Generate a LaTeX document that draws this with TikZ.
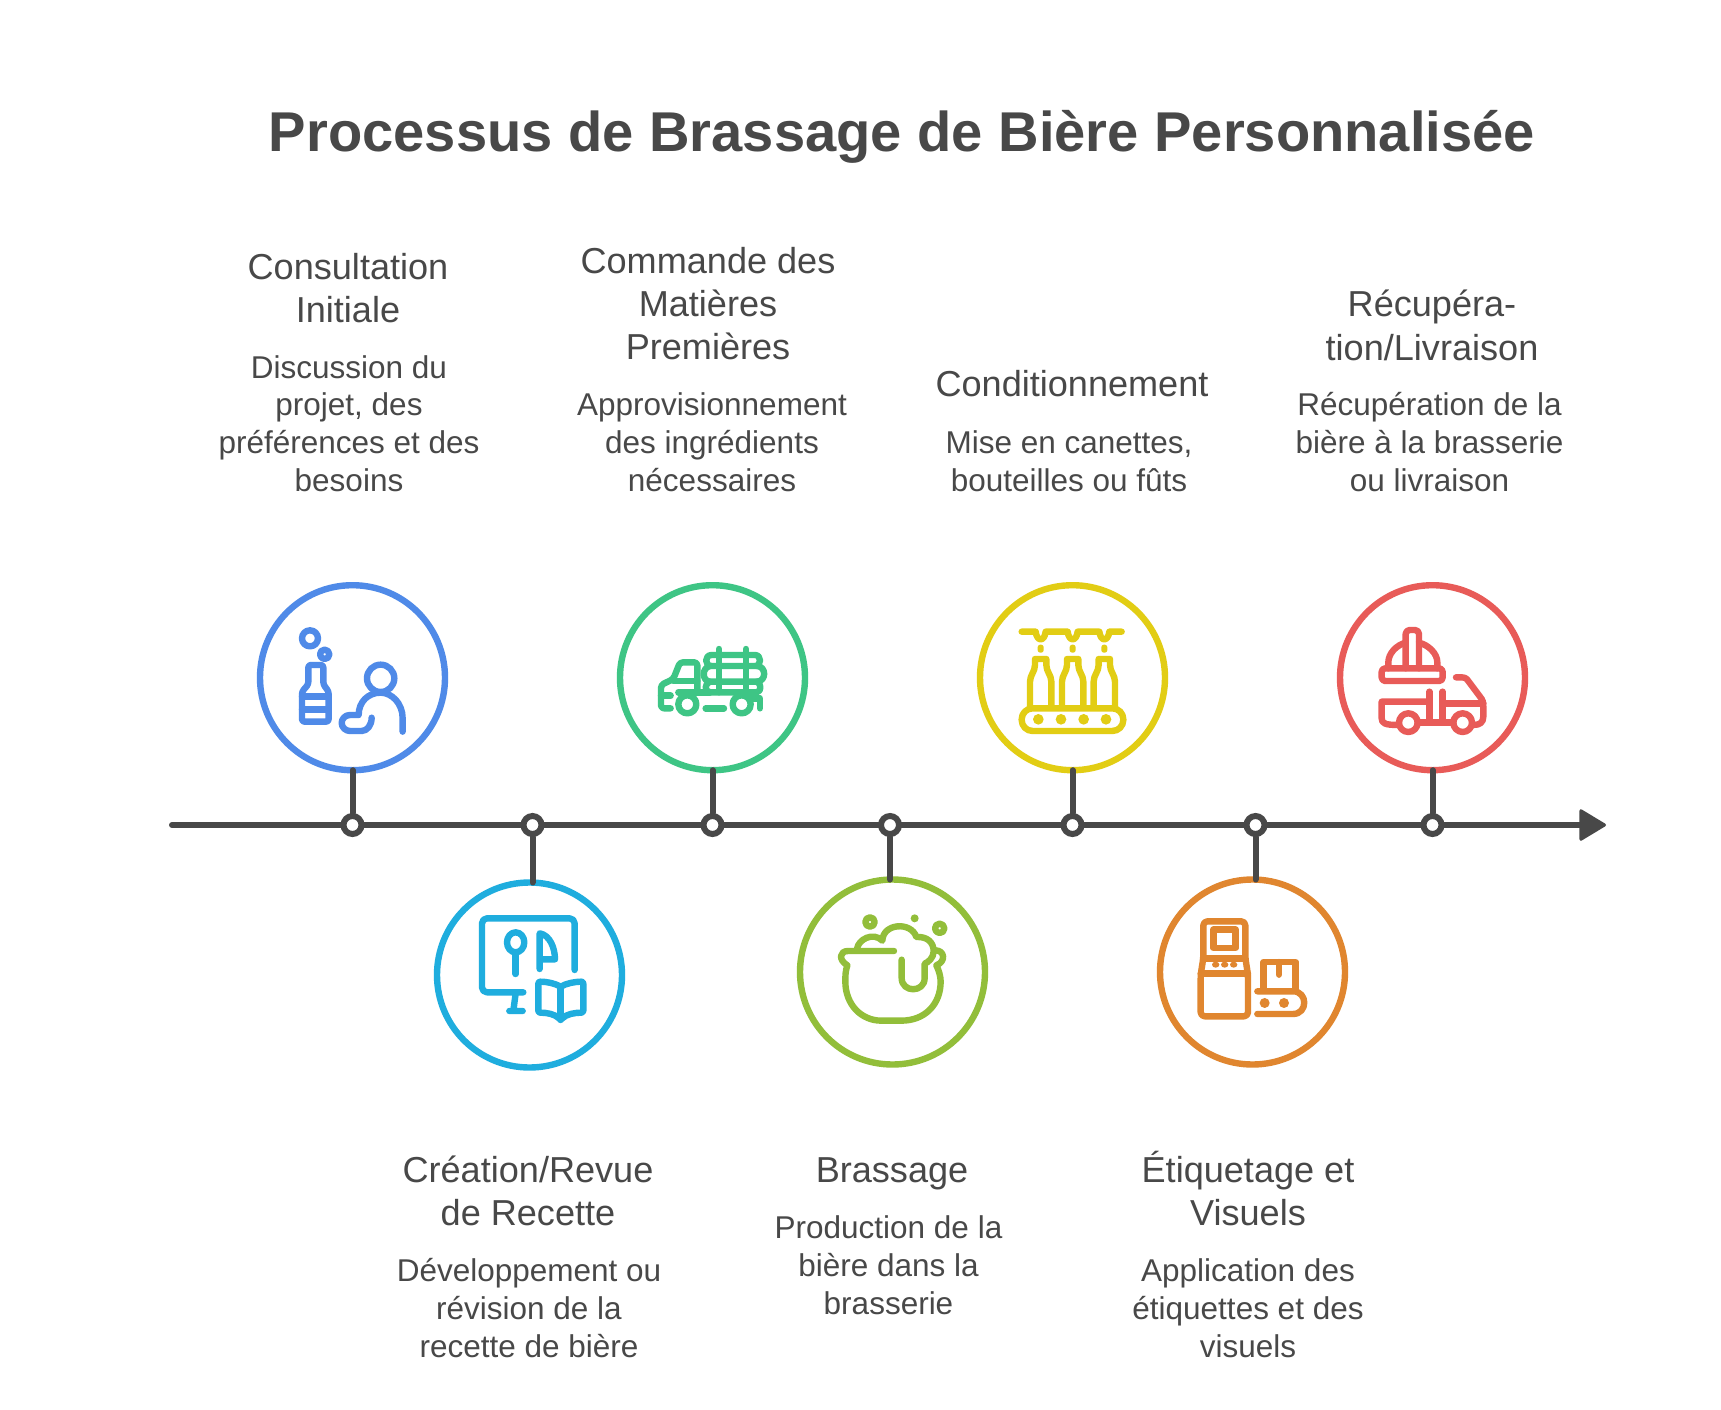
\documentclass[tikz,border=0pt]{standalone}
\usepackage{fontspec}
\setmainfont{Liberation Sans}
\usetikzlibrary{arrows.meta}
\definecolor{ink}{HTML}{484848}
\definecolor{cblue}{HTML}{4F8AE8}
\definecolor{ccyan}{HTML}{1FADDE}
\definecolor{cgreen}{HTML}{3EC585}
\definecolor{colive}{HTML}{92BE3A}
\definecolor{cyellow}{HTML}{E2CD14}
\definecolor{corange}{HTML}{E0862F}
\definecolor{cred}{HTML}{E85B58}
\newcommand{\headfont}{\fontsize{36.1}{43.4}\selectfont}
\newcommand{\descfont}{\fontsize{31.5}{37.8}\selectfont}
\tikzset{
  x=1pt,y=-1pt,
  ring/.style={circle,draw=#1,line width=6.4pt,minimum size=185pt,inner sep=0pt,outer sep=0pt},
  tick/.style={circle,draw=ink,fill=white,line width=6pt,minimum size=18pt,inner sep=0pt},
  link/.style={draw=ink,line width=6pt,line cap=round},
  head/.style={text=ink,align=center,font=\headfont,inner sep=0pt},
  desc/.style={text=ink,align=center,font=\descfont,inner sep=0pt},
  icon/.style={draw=#1,line width=6.4pt,line cap=round,line join=round},
  iconat/.style={shift={(#1)},x=0.3333pt,y=-0.3333pt},
}
\begin{document}
\begin{tikzpicture}
\useasboundingbox (0,0) rectangle (1721,1410);
\fill[white] (0,0) rectangle (1721,1410);
\node[text=ink,font=\bfseries\fontsize{56.1}{66}\selectfont,inner sep=0pt] (title) at (902,137) {Processus de Brassage de Bière Personnalisée};

% axis
\coordinate (axisstart) at (172,825);
\coordinate (axisend) at (1606,825);
\draw[draw=ink,line width=6pt,line cap=round,-{Triangle[length=28pt,width=33pt,round,line width=3pt]}] (axisstart) -- (axisend);

% rings
\node[ring=cblue] (c1) at (352.5,677.7) {};
\node[ring=ccyan] (c2) at (529.5,975) {};
\node[ring=cgreen] (c3) at (712.5,677.7) {};
\node[ring=colive] (c4) at (892.5,972) {};
\node[ring=cyellow] (c5) at (1072.5,677.7) {};
\node[ring=corange] (c6) at (1252.5,972) {};
\node[ring=cred] (c7) at (1432.5,677.7) {};

% ticks
\node[tick] (m1) at (352.5,825) {};
\node[tick] (m2) at (532.5,825) {};
\node[tick] (m3) at (712.5,825) {};
\node[tick] (m4) at (890,825) {};
\node[tick] (m5) at (1072.5,825) {};
\node[tick] (m6) at (1255.5,825) {};
\node[tick] (m7) at (1432.5,825) {};

\draw[link] (m1) -- (m1 |- c1.south);
\draw[link] (m2) -- (m2 |- c2.north);
\draw[link] (m3) -- (m3 |- c3.south);
\draw[link] (m4) -- (m4 |- c4.north);
\draw[link] (m5) -- (m5 |- c5.south);
\draw[link] (m6) -- (m6 |- c6.north);
\draw[link] (m7) -- (m7 |- c7.south);

% texts
\node[head] (h1) at (348,288) {Consultation\\Initiale};
\node[desc] (d1) at (349,423.6) {Discussion du\\projet, des\\préférences et des\\besoins};
\node[head] (h3) at (708,303.5) {Commande des\\Matières\\Premières};
\node[desc] (d3) at (712,442) {Approvisionnement\\des ingrédients\\nécessaires};
\node[head] (h5) at (1072,384) {Conditionnement};
\node[desc] (d5) at (1069,461) {Mise en canettes,\\bouteilles ou fûts};
\node[head] (h7) at (1432,325.5) {Récupéra-\\tion/Livraison};
\node[desc] (d7) at (1429.5,442) {Récupération de la\\bière à la brasserie\\ou livraison};
\node[head] (h2) at (528,1191) {Création/Revue\\de Recette};
\node[desc] (d2) at (529,1308) {Développement ou\\révision de la\\recette de bière};
\node[head] (h4) at (892,1174) {Brassage};
\node[desc] (d4) at (888.5,1265.5) {Production de la\\bière dans la\\brasserie};
\node[head] (h6) at (1248,1188.5) {Étiquetage et\\Visuels};
\node[desc] (d6) at (1248,1308) {Application des\\étiquettes et des\\visuels};

% icon 1
\begin{scope}[iconat={250,575}]
\path[icon=cblue] (180,190) circle (24) (224,238) circle (14);
\draw[icon=cblue,rounded corners=2.5pt] (175,328) -- (175,270) -- (220,270) -- (220,328) -- (236,350) -- (236,440) -- (156,440) -- (156,350) -- cycle;
\draw[icon=cblue] (156,365) -- (236,365) (156,403) -- (236,403);
\draw[icon=cblue] (392,310) circle (41);
\draw[icon=cblue] (458,470) -- (458,430) .. controls (458,385) and (425,353) .. (392,353) .. controls (355,353) and (326,380) .. (326,420) -- (300,420) .. controls (285,420) and (275,432) .. (275,444) .. controls (275,458) and (288,468) .. (300,468) -- (335,468) .. controls (352,468) and (365,450) .. (365,428);
\end{scope}

% icon 3 truck with logs
\begin{scope}[iconat={610,575}]
\draw[icon=cgreen] (305,240) -- (435,240) .. controls (455,240) and (455,273) .. (435,273) -- (305,273) .. controls (283,273) and (283,240) .. (305,240);
\draw[icon=cgreen] (300,273) .. controls (275,278) and (275,318) .. (300,320) -- (440,320) .. controls (470,320) and (470,273) .. (440,273);
\draw[icon=cgreen] (300,320) .. controls (283,325) and (283,350) .. (300,352) -- (440,352) .. controls (455,350) and (455,325) .. (440,320);
\draw[icon=cgreen] (327,222) -- (327,352) (408,222) -- (408,352);
\draw[icon=cgreen,rounded corners=3pt] (262,345) -- (262,262) -- (210,262) -- (190,312) -- (153,330) -- (153,400) -- (182,400);
\draw[icon=cgreen] (153,362) -- (182,362) (190,318) -- (262,318) (205,352) -- (300,352);
\draw[icon=cgreen] (232,388) circle (27) (395,388) circle (27);
\draw[icon=cgreen] (287,400) -- (342,400) (420,370) -- (450,370) -- (450,400);
\end{scope}

% icon 5 bottling
\begin{scope}[iconat={970,575}]
\draw[icon=cyellow] (155,170) -- (197,170) .. controls (199,185) and (205,193) .. (212,193) .. controls (219,193) and (225,185) .. (227,170) -- (293,170) .. controls (295,185) and (301,193) .. (308,193) .. controls (315,193) and (321,185) .. (323,170) -- (388,170) .. controls (390,185) and (396,193) .. (403,193) .. controls (410,193) and (416,185) .. (418,170) -- (455,170);
\foreach \bx in {212,308,403}{
  \fill[cyellow,rounded corners=2.5pt] (\bx-9,209) rectangle (\bx+9,233);
  \draw[icon=cyellow] (\bx-32,395) -- (\bx-32,320) .. controls (\bx-32,300) and (\bx-17,290) .. (\bx-17,270) -- (\bx-17,252) -- (\bx+17,252) -- (\bx+17,270) .. controls (\bx+17,290) and (\bx+32,300) .. (\bx+32,320) -- (\bx+32,395);
}
\draw[icon=cyellow,rounded corners=11pt] (155,400) rectangle (460,468);
\foreach \rx in {205,273,341,408}{\fill[cyellow] (\rx,433) circle (16);}
\end{scope}

% icon 7 delivery
\begin{scope}[iconat={1330,575}]
\draw[icon=cred,rounded corners=3.5pt] (155,280) rectangle (338,318);
\draw[icon=cred] (175,280) -- (175,262) .. controls (175,235) and (200,210) .. (227,203);
\draw[icon=cred] (322,280) -- (322,262) .. controls (322,235) and (295,210) .. (267,203);
\draw[icon=cred,rounded corners=4pt] (227,280) -- (227,165) -- (267,165) -- (267,280);
\draw[icon=cred] (298,380) -- (155,380) -- (155,430) .. controls (155,445) and (165,450) .. (205,450);
\draw[icon=cred] (235,443) circle (28) (398,443) circle (28);
\draw[icon=cred] (298,350) -- (298,443) (338,350) -- (338,443) (263,443) -- (370,443) (338,385) -- (460,385);
\draw[icon=cred] (378,307) -- (395,307) .. controls (410,307) and (412,315) .. (420,325) -- (450,365) .. controls (458,375) and (460,380) .. (460,395) -- (460,425) .. controls (460,442) and (450,450) .. (430,450);
\end{scope}

% icon 2 screen and book
\begin{scope}[iconat={425,870}]
\draw[icon=ccyan,rounded corners=5pt] (449,300) -- (449,145) -- (171,145) -- (171,367) -- (295,367);
\draw[icon=ccyan] (272,370) -- (265,423) (253,423) -- (293,423);
\draw[icon=ccyan] (272,217) ellipse (26 and 30);
\draw[icon=ccyan] (272,247) -- (272,312);
\draw[icon=ccyan] (344,297) -- (344,190) .. controls (375,195) and (390,235) .. (390,268) -- (344,268);
\draw[icon=ccyan] (407,352) -- (407,450);
\draw[icon=ccyan,rounded corners=2pt] (407,350) .. controls (390,340) and (365,335) .. (340,335) -- (340,428) .. controls (365,428) and (390,432) .. (407,450) .. controls (424,432) and (450,428) .. (475,428) -- (475,335) .. controls (450,335) and (424,340) .. (407,350);
\end{scope}

% icon 4 pot
\begin{scope}[iconat={788,868}]
\draw[icon=colive] (246,162) circle (14) (455,181) circle (14);
\fill[colive] (380,151) circle (12);
\draw[icon=colive] (318,249) -- (180,249) .. controls (155,249) and (150,275) .. (178,292) .. controls (172,310) and (172,325) .. (172,340) .. controls (172,410) and (220,458) .. (280,458) -- (340,458) .. controls (410,458) and (458,410) .. (458,340) .. controls (458,325) and (452,305) .. (445,292) .. controls (475,280) and (470,247) .. (442,247);
\draw[icon=colive] (207,243) .. controls (210,215) and (255,190) .. (283,218) .. controls (285,165) and (370,160) .. (385,207) .. controls (420,205) and (437,225) .. (437,250) .. controls (437,270) and (420,283) .. (410,287) -- (410,330) .. controls (410,375) and (341,375) .. (341,330) -- (341,275);
\end{scope}

% icon 6 machine
\begin{scope}[iconat={1148,868}]
\draw[icon=corange,rounded corners=4pt] (158,320) -- (166,270) -- (166,160) -- (292,160) -- (292,270) -- (300,320) -- (300,445) -- (158,445) -- cycle;
\draw[icon=corange] (166,272) -- (292,272) (158,316) -- (300,316);
\draw[icon=corange] (196,185) rectangle (263,240);
\foreach \bx in {203,230,257}{\fill[corange] (\bx,290) ellipse (11 and 9);}
\draw[icon=corange] (347,362) -- (347,282) -- (443,282) -- (443,362) (393,282) -- (393,320);
\draw[icon=corange] (328,370) -- (435,370) .. controls (480,370) and (480,438) .. (435,438) -- (328,438);
\fill[corange] (350,405) circle (15) (408,405) circle (15);
\end{scope}
\end{tikzpicture}
\end{document}
